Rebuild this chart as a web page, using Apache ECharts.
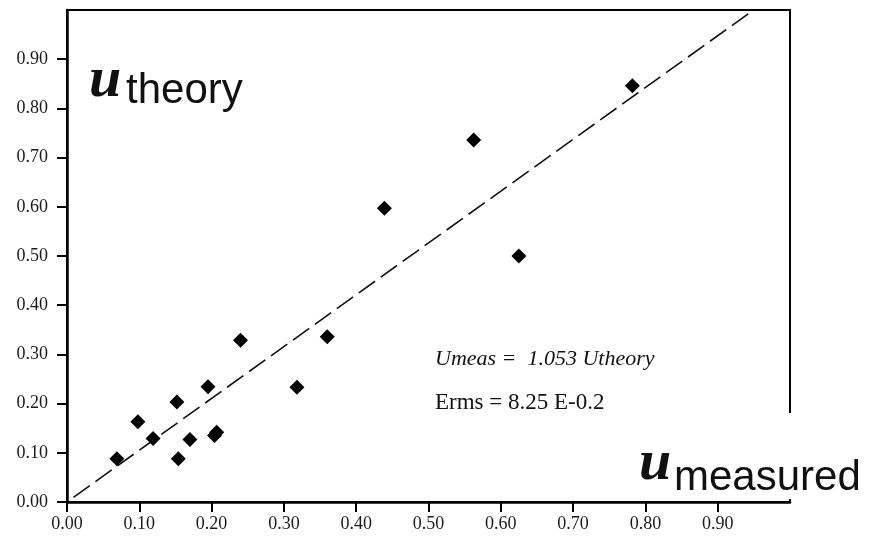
<!DOCTYPE html>
<html>
<head>
<meta charset="utf-8">
<script src="https://cdn.jsdelivr.net/npm/echarts@6/dist/echarts.min.js"></script>
<style>
  html, body { margin: 0; padding: 0; background: #ffffff; }
  #chart { width: 882px; height: 537px; }
</style>
</head>
<body>
<div id="chart"></div>
<script>
// Measured vs. theoretical u values
const uMeasured = [0.069, 0.098, 0.119, 0.152, 0.154, 0.170, 0.195, 0.207, 0.204, 0.240, 0.318, 0.360, 0.439, 0.5625, 0.625, 0.782];
const uTheory   = [0.088, 0.163, 0.129, 0.203, 0.088, 0.127, 0.234, 0.142, 0.135, 0.329, 0.233, 0.336, 0.597, 0.736, 0.500, 0.846];

// Linear fit through the origin
const fitSlope = 1.053;
const fitStartX = 0.009;

// Axis ticks and their labels
const xTickValues = [0, 0.1, 0.2, 0.3, 0.4, 0.5, 0.6, 0.7, 0.8, 0.9];
const xTickLabels = ['0.00', '0.10', '0.20', '0.30', '0.40', '0.50', '0.60', '0.70', '0.80', '0.90'];
const yTickValues = [0, 0.1, 0.2, 0.3, 0.4, 0.5, 0.6, 0.7, 0.8, 0.9];
const yTickLabels = ['0.00', '0.10', '0.20', '0.30', '0.40', '0.50', '0.60', '0.70', '0.80', '0.90'];

const fitEquation = 'Umeas =  1.053 Utheory';
const fitError = 'Erms = 8.25 E-0.2';

const points = uMeasured.map((x, i) => [x, uTheory[i]]);
const axisMax = 1;
const fitLine = [[fitStartX, fitSlope * fitStartX], [axisMax / fitSlope, axisMax]];

function labelFor(values, labels) {
  return function (v) {
    const i = values.findIndex(t => Math.abs(t - v) < 1e-6);
    return i >= 0 ? labels[i] : '';
  };
}

const serif = '"Liberation Serif", "Times New Roman", serif';
const sans = '"Liberation Sans", Arial, sans-serif';

const axisCommon = {
  type: 'value',
  min: 0,
  max: axisMax,
  interval: 0.1,
  splitLine: { show: false },
  axisLine: { show: true, lineStyle: { color: '#000', width: 2.5 } },
  axisTick: { show: true, inside: false, length: 10, lineStyle: { color: '#000', width: 2 } }
};

const chart = echarts.init(document.getElementById('chart'), null, { renderer: 'canvas' });

chart.setOption({
  backgroundColor: '#ffffff',
  animation: false,
  grid: {
    left: 67, top: 10, right: 92, bottom: 35,
    show: true, borderColor: '#000', borderWidth: 2, backgroundColor: 'transparent'
  },
  xAxis: Object.assign({}, axisCommon, {
    axisTick: Object.assign({}, axisCommon.axisTick, { customValues: xTickValues }),
    axisLabel: {
      customValues: xTickValues,
      formatter: labelFor(xTickValues, xTickLabels),
      fontFamily: serif, fontSize: 18, color: '#1a1a1a', margin: 13
    }
  }),
  yAxis: Object.assign({}, axisCommon, {
    axisTick: Object.assign({}, axisCommon.axisTick, { customValues: yTickValues }),
    axisLabel: {
      customValues: yTickValues,
      formatter: labelFor(yTickValues, yTickLabels),
      fontFamily: serif, fontSize: 18, color: '#1a1a1a', margin: 19
    }
  }),
  series: [
    {
      type: 'line',
      data: fitLine,
      symbol: 'none',
      silent: true,
      lineStyle: { color: '#111', width: 1.6, type: [20, 7] },
      z: 2
    },
    {
      type: 'scatter',
      data: points,
      symbol: 'diamond',
      symbolSize: 15,
      itemStyle: { color: '#000', opacity: 1 },
      z: 3
    }
  ],
  graphic: [
    // clear strip where the x-axis title sits
    { type: 'rect', z: 100, shape: { x: 600, y: 413, width: 282, height: 86 }, style: { fill: '#ffffff' } },
    { type: 'text', z: 101, x: 89, y: 81, style: { text: 'u', font: 'italic bold 58px ' + serif, fill: '#111', verticalAlign: 'middle' } },
    { type: 'text', z: 101, x: 126, y: 91, style: { text: 'theory', font: '42px ' + sans, fill: '#111', verticalAlign: 'middle' } },
    { type: 'text', z: 101, x: 639, y: 464, style: { text: 'u', font: 'italic bold 58px ' + serif, fill: '#111', verticalAlign: 'middle' } },
    { type: 'text', z: 101, x: 674, y: 478, style: { text: 'measured', font: '42px ' + sans, fill: '#111', verticalAlign: 'middle' } },
    { type: 'text', z: 101, x: 435, y: 359, style: { text: fitEquation, font: 'italic 22px ' + serif, fill: '#111', verticalAlign: 'middle' } },
    { type: 'text', z: 101, x: 435, y: 403, style: { text: fitError, font: '23px ' + serif, fill: '#111', verticalAlign: 'middle' } }
  ]
});
</script>
</body>
</html>
